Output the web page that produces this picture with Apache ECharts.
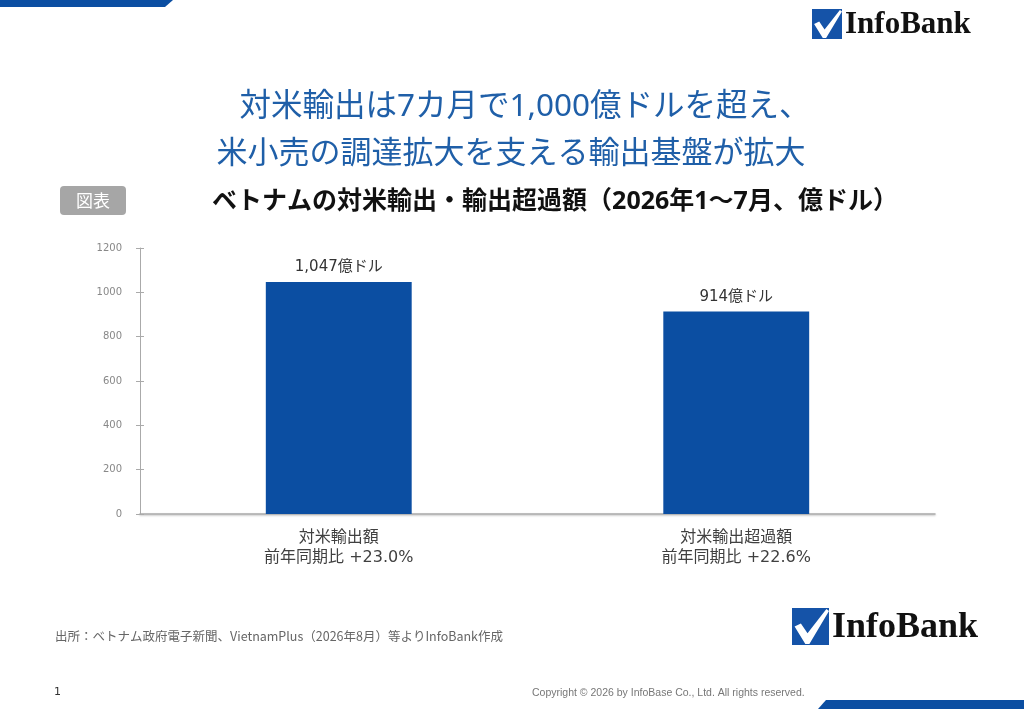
<!DOCTYPE html>
<html>
<head>
<meta charset="utf-8">
<script src="https://cdn.jsdelivr.net/npm/echarts@6/dist/echarts.min.js"></script>
<style>
  html, body { margin: 0; padding: 0; background: #fff; }
  #main { width: 1024px; height: 709px; }
</style>
</head>
<body>
<div id="main"></div>
<script>
// data
var categoryNames = ['対米輸出額', '対米輸出超過額'];
var yoyChanges = ['+23.0%', '+22.6%'];
var values = [1047, 914];
var valueText = ['1,047', '914'];
var yTicks = { min: 0, max: 1200, interval: 200 };

var JP = '"Noto Sans CJK JP", "Noto Sans", sans-serif';
// latin glyphs from a wider face, kana/kanji fall back to Noto CJK on the same baseline
var MIX = '"DejaVu Sans", "Noto Sans CJK JP", sans-serif';
var MIX2 = '"Noto Sans", "Noto Sans CJK JP", sans-serif';
var BLUE = '#0b4ea2';

// InfoBank logo: blue square + white check + serif text
function logo(x, y, s, fs) {
  var check = [[0.07,0.5],[0.24,0.42],[0.42,0.68],[0.93,0.03],[1.0,0.08],[0.47,0.97],[0.36,0.97]];
  return {
    type: 'group', x: x, y: y,
    children: [
      { type: 'rect', shape: { x: 0, y: 0, width: s, height: s }, style: { fill: '#1553a8' } },
      { type: 'polygon', shape: { points: check.map(function (p) { return [p[0] * s, p[1] * s]; }) },
        style: { fill: '#fff' } },
      { type: 'text', x: s + 3, y: s / 2 + 1,
        style: { text: 'InfoBank', fill: '#111', font: 'bold ' + fs + 'px "Liberation Serif", "DejaVu Serif", serif',
                 verticalAlign: 'middle', align: 'left' } }
    ]
  };
}

var yBase = { type: 'value', min: yTicks.min, max: yTicks.max, interval: yTicks.interval, splitLine: { show: false } };

var chart = echarts.init(document.getElementById('main'));
chart.setOption({
  backgroundColor: '#fff',
  animation: false,
  grid: { left: 140, right: 89, top: 248, bottom: 195 },
  xAxis: {
    type: 'category',
    data: categoryNames.map(function (c, i) { return c + '\n前年同期比 ' + yoyChanges[i]; }),
    axisLine: { lineStyle: { color: '#aaa', width: 1.5, shadowColor: 'rgba(0,0,0,0.25)', shadowBlur: 2, shadowOffsetY: 1 } },
    axisTick: { show: false },
    axisLabel: { color: '#404040', fontSize: 16, lineHeight: 20, margin: 14, fontFamily: MIX }
  },
  yAxis: [
    Object.assign({}, yBase, {
      axisLine: { show: true, lineStyle: { color: '#aaa' } },
      axisTick: { show: true, length: 4, lineStyle: { color: '#aaa' } },
      axisLabel: { color: '#888', fontSize: 10, margin: 18, fontFamily: MIX,
                   formatter: function (v) { return String(v); } }
    }),
    Object.assign({}, yBase, {
      position: 'left',
      axisLine: { show: false },
      axisTick: { show: true, inside: true, length: 4, lineStyle: { color: '#aaa' } },
      axisLabel: { show: false }
    })
  ],
  series: [{
    type: 'bar',
    data: values,
    barWidth: '36.7%',
    itemStyle: { color: BLUE },
    label: {
      show: true, position: 'top', distance: 7,
      color: '#333', fontSize: 15, fontFamily: MIX,
      formatter: function (p) { return valueText[p.dataIndex] + '億ドル'; }
    }
  }],
  graphic: [
    // top-left band
    { type: 'polygon', shape: { points: [[0,0],[173,0],[165,7],[0,7]] }, style: { fill: BLUE } },
    // bottom-right band
    { type: 'polygon', shape: { points: [[826,700],[1024,700],[1024,709],[818,709]] }, style: { fill: BLUE } },
    logo(812, 9, 30, 31),
    logo(792, 608, 37, 36),
    // title
    { type: 'text', x: 525, y: 107,
      style: { text: '対米輸出は7カ月で1,000億ドルを超え、', fill: '#1f5fa8', font: '31.5px ' + MIX2,
               align: 'center', verticalAlign: 'middle' } },
    { type: 'text', x: 511, y: 151,
      style: { text: '米小売の調達拡大を支える輸出基盤が拡大', fill: '#1f5fa8', font: '31px ' + JP,
               align: 'center', verticalAlign: 'middle' } },
    // 図表 tag
    { type: 'rect', shape: { x: 60, y: 186, width: 66, height: 29, r: 4 }, style: { fill: '#a6a6a6' } },
    { type: 'text', x: 93, y: 201,
      style: { text: '図表', fill: '#fff', font: '17px ' + JP, align: 'center', verticalAlign: 'middle' } },
    // chart subtitle
    { type: 'text', x: 555, y: 202,
      style: { text: 'ベトナムの対米輸出・輸出超過額（2026年1～7月、億ドル）', fill: '#111',
               font: 'bold 25px ' + MIX2, align: 'center', verticalAlign: 'middle' } },
    // source
    { type: 'text', x: 55, y: 636,
      style: { text: '出所：ベトナム政府電子新聞、VietnamPlus（2026年8月）等よりInfoBank作成', fill: '#666',
               font: '12.5px ' + JP, verticalAlign: 'middle' } },
    // page number
    { type: 'text', x: 54, y: 692,
      style: { text: '1', fill: '#333', font: '11px ' + MIX, verticalAlign: 'middle' } },
    // copyright
    { type: 'text', x: 532, y: 693,
      style: { text: 'Copyright © 2026 by InfoBase Co., Ltd. All rights reserved.', fill: '#777',
               font: '10.5px "Liberation Sans", Arial, sans-serif', verticalAlign: 'middle' } }
  ]
});
</script>
</body>
</html>
